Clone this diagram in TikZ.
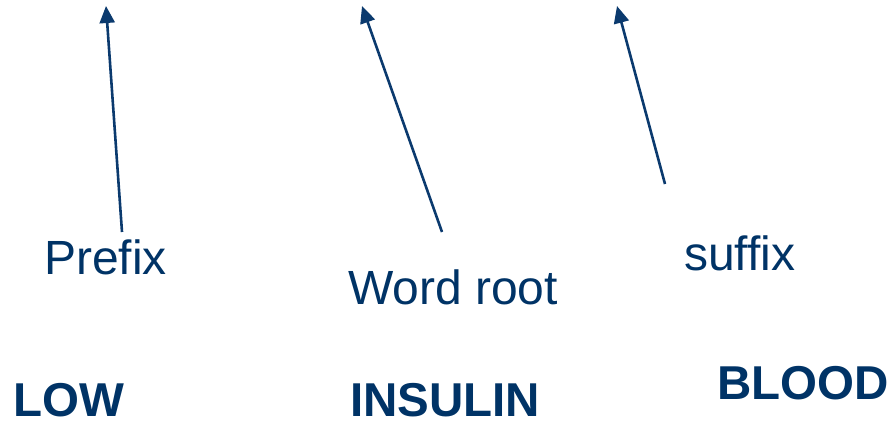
\documentclass[tikz,border=0pt]{standalone}
\usepackage{fontspec}
\setmainfont{Liberation Sans}
\usetikzlibrary{arrows.meta}
\definecolor{navy}{HTML}{003366}
\definecolor{arrowblue}{HTML}{0B3A6E}
\begin{document}
\begin{tikzpicture}[x=1pt,y=-1pt,
  lbl/.style={anchor=base west,inner sep=0pt,text=navy,font=\fontsize{48}{50}\selectfont},
  word/.style={anchor=base west,inner sep=0pt,text=navy,font=\fontsize{47.5}{50}\selectfont\bfseries},
  pointer/.style={draw=arrowblue,line width=2.6pt,-{Triangle[width=15pt,length=17pt]}}]
\useasboundingbox (0,0) rectangle (890,421);
\node[lbl] (prefix) at (44,274) {Prefix};
\node[lbl] (root) at (348,304) {Word root};
\node[lbl] (suffix) at (684,270) {suffix};
\node[word] (low) at (13,416) {LOW};
\node[word] (insulin) at (350,416) {INSULIN};
\node[word] (blood) at (717,399) {BLOOD};
\coordinate (p1) at (122,232);
\coordinate (t1) at (106,6);
\coordinate (p2) at (442,232);
\coordinate (t2) at (362,6);
\coordinate (p3) at (665,184);
\coordinate (t3) at (617,6);
\draw[pointer] (p1) -- (t1);
\draw[pointer] (p2) -- (t2);
\draw[pointer] (p3) -- (t3);
\end{tikzpicture}
\end{document}
